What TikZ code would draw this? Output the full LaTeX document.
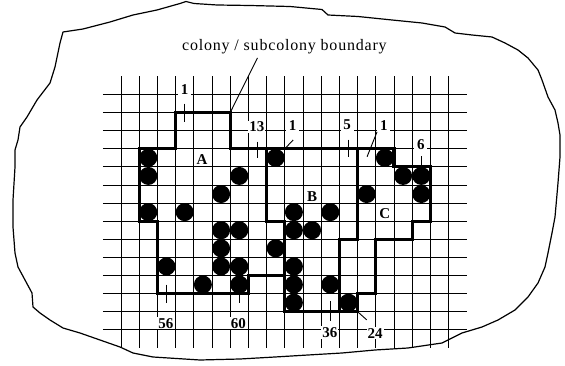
\documentclass[tikz,border=0pt]{standalone}
\usepackage{fontspec}
\setmainfont{Liberation Serif}
\newfontfamily\capfont{Liberation Serif}[LetterSpace=5]
\usetikzlibrary{positioning}
\tikzset{
  gridline/.style={line width=0.9pt},
  bound/.style={line width=3.2pt, line join=miter, line cap=rect},
  occ/.style={fill=black},
  tick/.style={line width=0.9pt},
  cnt/.style={fill=white, inner sep=1pt, minimum width=13pt, font=\fontsize{15}{15}\selectfont\bfseries},
  region/.style={inner sep=0pt, font=\fontsize{15}{15}\selectfont\bfseries},
  rim/.style={line width=1.2pt, line join=round}
}

\begin{document}
\begin{tikzpicture}[x=18.2pt, y=-18.1pt]
    % outline of the sheet, in pixel units
    \begin{scope}[x=1pt, y=-1pt, shift={(-121pt,94.5pt)}]
      \useasboundingbox (0,0) rectangle (565,366);
      \draw[rim] (63,32) -- (83,29) -- (110,22) -- (133,15) -- (157,10) -- (180,3.5) -- (186,1.5)
        -- (194,3.5) -- (217,5) -- (250,5.5) -- (290,6.5) -- (322,9.5) -- (328,15) -- (358,16.5)
        -- (392,20) -- (422,23) -- (445,27) -- (455,33) -- (472,35) -- (492,37) -- (505,43)
        -- (518,50) -- (528,58) -- (538,70) -- (542,80) -- (548,97) -- (555,110) -- (558,123)
        -- (560,135) -- (560,157) -- (558,183) -- (555,217) -- (552,233) -- (548,253) -- (545,267)
        -- (538,283) -- (528,297) -- (515,310) -- (498,320) -- (482,327) -- (462,333) -- (442,343)
        -- (408,348) -- (375,350) -- (342,353) -- (308,355) -- (275,357) -- (240,359) -- (200,360)
        -- (153,357) -- (133,353) -- (120,347) -- (100,340) -- (80,333) -- (63,328) -- (50,320)
        -- (40,313) -- (33,307) -- (32,293) -- (25,280) -- (18,267) -- (15,253) -- (13,227)
        -- (13,200) -- (15,167) -- (15,150) -- (18,140) -- (20,127) -- (27,117) -- (37,100)
        -- (50,83) -- (55,67) -- (60,43) -- cycle;
    \end{scope}
    % grid
    \foreach \i in {0,...,18}
      \draw[gridline] (\i,-1) -- (\i,14);
    \foreach \j in {0,...,13}
      \draw[gridline] (-1,\j) -- (19,\j);
    % colony and subcolony boundaries
    \draw[bound] (1,3) -- (3,3) -- (3,1) -- (6,1) -- (6,3) -- (15,3) -- (15,4) -- (17,4) -- (17,7)
      -- (16,7) -- (16,8) -- (14,8) -- (14,11) -- (13,11) -- (13,12) -- (9,12) -- (9,10) -- (7,10)
      -- (7,11) -- (2,11) -- (2,7) -- (1,7) -- cycle;
    \draw[bound] (8,3) -- (8,7) -- (9,7) -- (9,10);
    \draw[bound] (13,3) -- (13,8) -- (12,8) -- (12,12);
    % occupied cells
    \foreach \c/\r in {1/3,1/4,1/6,3/6,5/5,6/4,5/7,6/7,5/8,5/9,6/9,2/9,4/10,6/10,8/8,
                       8/3,9/6,11/6,9/7,10/7,9/9,9/10,11/10,9/11,
                       14/3,15/4,16/4,16/5,13/5,12/11}
      \fill[occ] (\c+0.5,\r+0.5) circle (9pt);
    % regions
    \node[region] (ra) at (4.45,3.6) {A};
    \node[region] (rb) at (10.5,5.62) {B};
    \node[region] (rc) at (14.5,6.6) {C};
    % counts
    \node[cnt] (n1a) at (3.49,-0.3) {1};
    \node[cnt] (n13) at (7.46,1.78) {13};
    \node[cnt] (n1b) at (9.43,1.69) {1};
    \node[cnt] (n5)  at (12.43,1.69) {5};
    \node[cnt] (n1c) at (14.45,1.69) {1};
    \node[cnt] (n6)  at (16.47,2.79) {6};
    \node[cnt] (n56) at (2.46,12.64) {56};
    \node[cnt] (n60) at (6.45,12.64) {60};
    \node[cnt] (n36) at (11.48,13.15) {36};
    \node[cnt] (n24) at (13.96,13.2) {24};
    \draw[tick] (3.5,0.5) -- (3.5,1.5);
    \draw[tick] (7.5,2.6) -- (7.5,3.5);
    \draw[tick] (12.5,2.5) -- (12.5,3.45);
    \draw[tick] (16.5,3.4) -- (16.5,4.2);
    \draw[tick] (2.5,10.5) -- (2.5,11.5);
    \draw[tick] (6.5,10.9) -- (6.5,11.5);
    \draw[tick] (11.5,11.4) -- (11.5,12.5);
    \coordinate (b1) at (9.46,2.51);
    \coordinate (c1) at (9,3);
    \draw[tick] (b1) -- (c1);
    \coordinate (b2) at (14.07,2.06);
    \coordinate (c2) at (13.52,3.44);
    \draw[tick] (b2) -- (c2);
    \coordinate (c3) at (13,12);
    \coordinate (b3) at (13.5,12.45);
    \draw[tick] (c3) -- (b3);
    % title and its leader
    \node[font=\capfont\fontsize{16}{16}\selectfont, anchor=base] (title) at (8.98,-2.43) {colony / subcolony boundary};
    \coordinate (tl) at (7.5,-2.02);
    \coordinate (cnr) at (6,1);
    \draw[tick] (tl) -- (cnr);
\end{tikzpicture}
\end{document}
